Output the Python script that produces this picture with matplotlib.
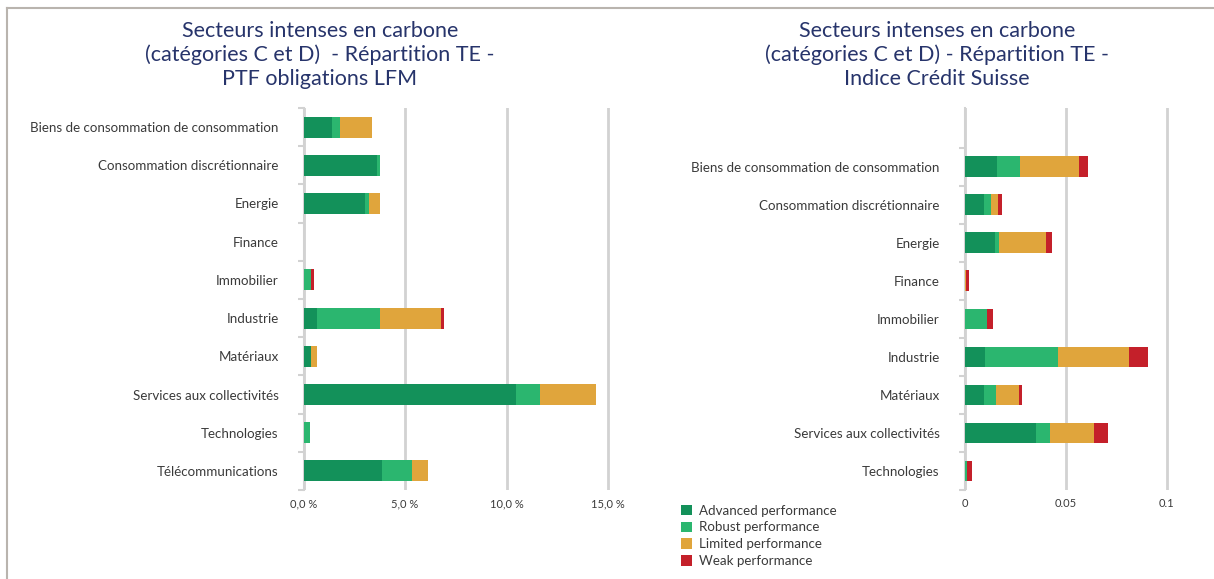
import numpy as np
import matplotlib
matplotlib.use("Agg")
import matplotlib.pyplot as plt
from matplotlib.patches import Patch
from matplotlib.lines import Line2D

plt.rcParams['font.family'] = ['Lato', 'DejaVu Sans']

# Portefeuille obligations LFM (parts en fraction)
sectors_ptf = ["Biens de consommation de consommation", "Consommation discrétionnaire",
               "Energie", "Finance", "Immobilier", "Industrie", "Matériaux",
               "Services aux collectivités", "Technologies", "Télécommunications"]
ptf_advanced = [0.0140, 0.0361, 0.0305, 0.0, 0.0, 0.0066, 0.0039, 0.1044, 0.0, 0.0384]
ptf_robust = [0.0042, 0.0018, 0.0018, 0.0, 0.0039, 0.0313, 0.0, 0.0122, 0.0034, 0.0148]
ptf_limited = [0.0156, 0.0, 0.0053, 0.0, 0.0, 0.0296, 0.0028, 0.0276, 0.0, 0.0082]
ptf_weak = [0.0, 0.0, 0.0, 0.0, 0.0015, 0.0018, 0.0, 0.0, 0.0, 0.0]

# Indice Crédit Suisse
sectors_idx = ["Biens de consommation de consommation", "Consommation discrétionnaire",
               "Energie", "Finance", "Immobilier", "Industrie", "Matériaux",
               "Services aux collectivités", "Technologies"]
idx_advanced = [0.0158, 0.0096, 0.0148, 0.0, 0.0, 0.0100, 0.0098, 0.0353, 0.0]
idx_robust = [0.0114, 0.0033, 0.0023, 0.0, 0.0111, 0.0364, 0.0056, 0.0072, 0.0012]
idx_limited = [0.0292, 0.0038, 0.0232, 0.0007, 0.0, 0.0352, 0.0116, 0.0215, 0.0]
idx_weak = [0.0045, 0.0017, 0.0031, 0.0013, 0.0028, 0.0091, 0.0015, 0.0070, 0.0026]

legend_labels = ["Advanced performance", "Robust performance",
                 "Limited performance", "Weak performance"]
colors = ["#13915a", "#2bb66f", "#e0a53c", "#c4202a"]
grid_col = "#d2d2d2"
text_col = "#3a3a3a"
title_col = "#27346b"

fig = plt.figure(figsize=(12.14, 5.79), dpi=100)

# thin frame on top and left
fig.add_artist(Line2D([6.5 / 1214, 6.5 / 1214], [0, 1 - 8 / 579], color="#b9b4ae", lw=1.5))
fig.add_artist(Line2D([6.5 / 1214, 1], [1 - 8 / 579, 1 - 8 / 579], color="#b9b4ae", lw=1.5))


def stacked(ax, sectors, series, xlim, ticks, ticklabels, ylim):
    y = np.arange(len(sectors))
    left = np.zeros(len(sectors))
    for vals, c in zip(series, colors):
        vals = np.array(vals)
        ax.barh(y, vals, left=left, height=0.55, color=c, zorder=3)
        left += vals
    ax.set_xlim(*xlim)
    ax.set_ylim(*ylim)
    ax.set_yticks(y)
    ax.set_yticklabels(sectors)
    ax.set_yticks(np.arange(-0.5, len(sectors), 1.0), minor=True)
    ax.tick_params(axis="y", which="major", length=0, pad=18, labelsize=9.6, labelcolor=text_col)
    ax.tick_params(axis="y", which="minor", length=4, width=1.5, color=grid_col)
    ax.set_xticks(ticks)
    ax.set_xticklabels(ticklabels)
    ax.tick_params(axis="x", length=0, pad=6, labelsize=8, labelcolor=text_col)
    for s in ["top", "right", "bottom"]:
        ax.spines[s].set_visible(False)
    ax.spines["left"].set_color(grid_col)
    ax.spines["left"].set_linewidth(1.5)
    ax.xaxis.grid(True, color=grid_col, lw=2, zorder=0)
    ax.set_axisbelow(True)


ax1 = fig.add_axes([303.5 / 1214, 1 - 490 / 579, 325 / 1214, 382 / 579])
stacked(ax1, sectors_ptf, [ptf_advanced, ptf_robust, ptf_limited, ptf_weak],
        (0, 0.16), [0, 0.05, 0.10, 0.15], ["0,0 %", "5,0 %", "10,0 %", "15,0 %"],
        (9.5, -0.5))

ax2 = fig.add_axes([964.7 / 1214, 1 - 490 / 579, 222 / 1214, 382 / 579])
stacked(ax2, sectors_idx, [idx_advanced, idx_robust, idx_limited, idx_weak],
        (0, 0.11), [0, 0.05, 0.1], ["0", "0.05", "0.1"],
        (8.5, -1.55))

fig.text(320 / 1214, 1 - 21 / 579,
         "Secteurs intenses en carbone\n(catégories C et D)  - Répartition TE -\nPTF obligations LFM",
         ha="center", va="top", fontsize=15.5, color=title_col, linespacing=1.22)
fig.text(937 / 1214, 1 - 21 / 579,
         "Secteurs intenses en carbone\n(catégories C et D) - Répartition TE -\nIndice Crédit Suisse",
         ha="center", va="top", fontsize=15.5, color=title_col, linespacing=1.22)

handles = [Patch(facecolor=c) for c in colors]
fig.legend(handles, legend_labels, loc="upper left", bbox_to_anchor=(670 / 1214, 1 - 494 / 579),
           frameon=False, fontsize=9.6, labelcolor=text_col, handlelength=0.85, handleheight=0.85,
           handletextpad=0.5, labelspacing=0.36, borderpad=0.3)

fig.savefig("out.png", dpi=100, facecolor="white")
